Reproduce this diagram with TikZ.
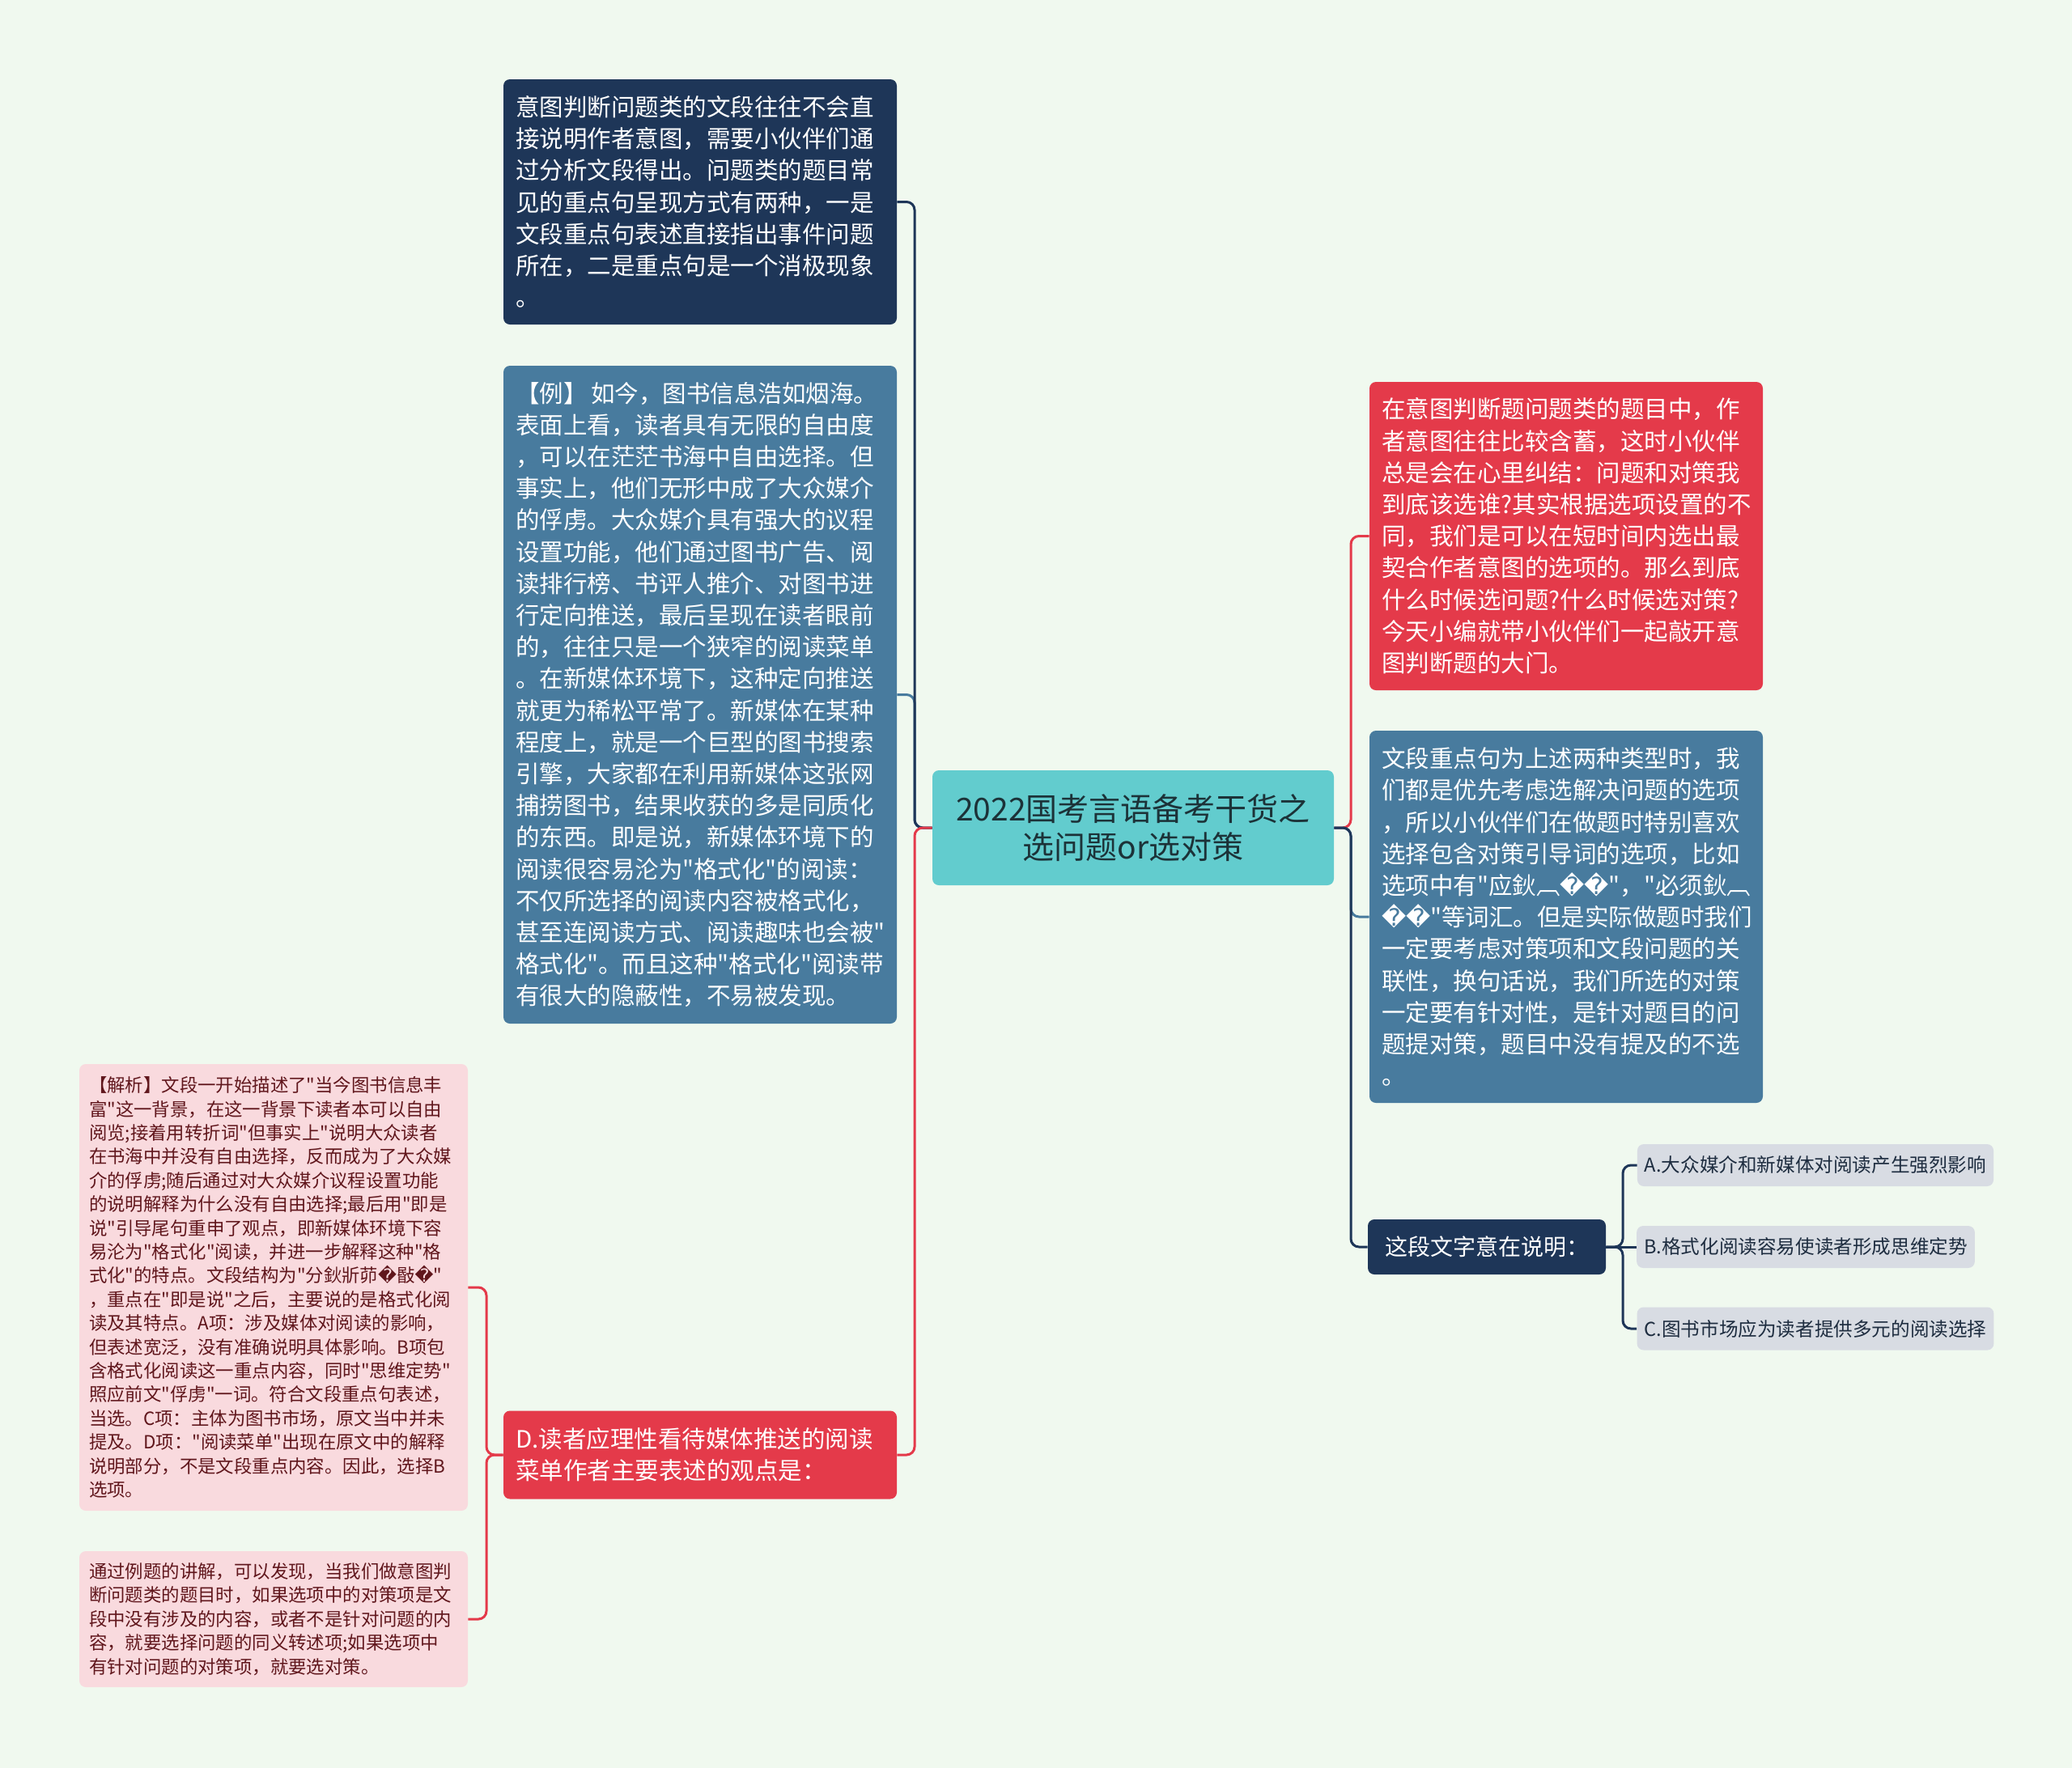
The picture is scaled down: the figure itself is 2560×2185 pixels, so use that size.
\documentclass[tikz,border=0pt]{standalone}
\usepackage{fontspec}
\newfontfamily\cjk{Noto Sans CJK SC}
\newfontfamily\djv{DejaVu Sans}
\newcommand{\rep}{{\djv\char"FFFD}}
\newcommand{\txtbig}{\cjk\fontsize{14.75pt}{19.6pt}\selectfont}
\newcommand{\txtsmall}{\cjk\fontsize{11.2pt}{14.7pt}\selectfont}
\newcommand{\txttitle}{\cjk\fontsize{19.5pt}{23.5pt}\selectfont}
\newcommand{\txtopt}{\cjk\fontsize{11.8pt}{14pt}\selectfont}
\newcommand{\txtmid}{\cjk\fontsize{14pt}{17pt}\selectfont}
\definecolor{bgc}{RGB}{240,249,239}
\definecolor{navyc}{RGB}{30,54,88}
\definecolor{steelc}{RGB}{72,123,158}
\definecolor{redc}{RGB}{228,58,74}
\definecolor{tealc}{RGB}{98,204,206}
\definecolor{pinkc}{RGB}{249,218,222}
\definecolor{greyc}{RGB}{216,220,227}
\definecolor{maroonc}{RGB}{96,22,28}
\definecolor{darktxt}{RGB}{28,50,56}
\definecolor{opttxt}{RGB}{30,45,64}
\tikzset{
  box/.style={rectangle, rounded corners=4pt, inner xsep=7.5pt, inner ysep=0pt, align=left},
  bigbox/.style={box, text=white, text width=228pt, minimum width=243pt, font=\txtbig},
  pinkbox/.style={box, fill=pinkc, text=maroonc, inner xsep=6pt, text width=228pt, minimum width=240pt, font=\txtsmall},
  optbox/.style={box, fill=greyc, text=opttxt, inner xsep=4.5pt, font=\txtopt},
  conn/.style={line width=1.5pt, rounded corners=5pt}
}
\begin{document}
\begin{tikzpicture}[x=0.5pt,y=-0.5pt]
\useasboundingbox (0,0) rectangle (2560,2185);
\fill[bgc] (0,0) rectangle (2560,2185);

% centre
\node[box, fill=tealc, text=darktxt, align=center, minimum width=248pt, minimum height=71pt, font=\txttitle] (c) at (1400,1023)
  {2022国考言语备考干货之\\选问题or选对策};

% left column
\node[bigbox, fill=navyc, minimum height=151.5pt] (tl) at (865,249.5)
  {意图判断问题类的文段往往不会直\\接说明作者意图，需要小伙伴们通\\过分析文段得出。问题类的题目常\\见的重点句呈现方式有两种，一是\\文段重点句表述直接指出事件问题\\所在，二是重点句是一个消极现象\\。};

\node[bigbox, fill=steelc, minimum height=406.5pt] (bl) at (865,858.5)
  {【例】\,如今，图书信息浩如烟海。\\表面上看，读者具有无限的自由度\\，可以在茫茫书海中自由选择。但\\事实上，他们无形中成了大众媒介\\的俘虏。大众媒介具有强大的议程\\设置功能，他们通过图书广告、阅\\读排行榜、书评人推介、对图书进\\行定向推送，最后呈现在读者眼前\\的，往往只是一个狭窄的阅读菜单\\。在新媒体环境下，这种定向推送\\就更为稀松平常了。新媒体在某种\\程度上，就是一个巨型的图书搜索\\引擎，大家都在利用新媒体这张网\\捕捞图书，结果收获的多是同质化\\的东西。即是说，新媒体环境下的\\阅读很容易沦为"格式化"的阅读：\\不仅所选择的阅读内容被格式化，\\甚至连阅读方式、阅读趣味也会被"\\格式化"。而且这种"格式化"阅读带\\有很大的隐蔽性，不易被发现。};

\node[bigbox, fill=redc, minimum height=54.5pt] (dr) at (865,1798)
  {D.读者应理性看待媒体推送的阅读\\菜单作者主要表述的观点是：};

\node[pinkbox, minimum height=276pt] (p1) at (338,1591)
  {【解析】文段一开始描述了"当今图书信息丰\\富"这一背景，在这一背景下读者本可以自由\\阅览;接着用转折词"但事实上"说明大众读者\\在书海中并没有自由选择，反而成为了大众媒\\介的俘虏;随后通过对大众媒介议程设置功能\\的说明解释为什么没有自由选择;最后用"即是\\说"引导尾句重申了观点，即新媒体环境下容\\易沦为"格式化"阅读，并进一步解释这种"格\\式化"的特点。文段结构为"分鈥斨茆\rep 敯\rep"\\，重点在"即是说"之后，主要说的是格式化阅\\读及其特点。A项：涉及媒体对阅读的影响，\\但表述宽泛，没有准确说明具体影响。B项包\\含格式化阅读这一重点内容，同时"思维定势"\\照应前文"俘虏"一词。符合文段重点句表述，\\当选。C项：主体为图书市场，原文当中并未\\提及。D项："阅读菜单"出现在原文中的解释\\说明部分，不是文段重点内容。因此，选择B\\选项。};

\node[pinkbox, minimum height=84pt] (p2) at (338,2001)
  {通过例题的讲解，可以发现，当我们做意图判\\断问题类的题目时，如果选项中的对策项是文\\段中没有涉及的内容，或者不是针对问题的内\\容，就要选择问题的同义转述项;如果选项中\\有针对问题的对策项，就要选对策。};

% right column
\node[bigbox, fill=redc, minimum height=190.5pt] (rr) at (1935,662.5)
  {在意图判断题问题类的题目中，作\\者意图往往比较含蓄，这时小伙伴\\总是会在心里纠结：问题和对策我\\到底该选谁?其实根据选项设置的不\\同，我们是可以在短时间内选出最\\契合作者意图的选项的。那么到底\\什么时候选问题?什么时候选对策?\\今天小编就带小伙伴们一起敲开意\\图判断题的大门。};

\node[bigbox, fill=steelc, minimum height=230pt] (rb) at (1935,1133)
  {文段重点句为上述两种类型时，我\\们都是优先考虑选解决问题的选项\\，所以小伙伴们在做题时特别喜欢\\选择包含对策引导词的选项，比如\\选项中有"应鈥︹\rep\rep"，"必须鈥︹\\\rep\rep"等词汇。但是实际做题时我们\\一定要考虑对策项和文段问题的关\\联性，换句话说，我们所选的对策\\一定要有针对性，是针对题目的问\\题提对策，题目中没有提及的不选\\。};

\node[box, fill=navyc, text=white, align=center, minimum width=147pt, minimum height=34pt, font=\txtmid] (rd) at (1837,1541)
  {这段文字意在说明：};

\node[optbox, minimum width=217pt, minimum height=26pt] (oa) at (2243,1440)
  {A.大众媒介和新媒体对阅读产生强烈影响};
\node[optbox, minimum width=205pt, minimum height=26pt] (ob) at (2231,1541)
  {B.格式化阅读容易使读者形成思维定势};
\node[optbox, minimum width=217pt, minimum height=26.5pt] (oc) at (2243,1642)
  {C.图书市场应为读者提供多元的阅读选择};

% connectors
\coordinate (lj) at (1130,1023);
\coordinate (rj) at (1669,1023);
\coordinate (pj) at (601,1798);
\coordinate (oj) at (2005,1541);

\draw[conn, steelc] (c.west) -- (lj) |- (bl.east);
\draw[conn, navyc] (c.west) -- (lj) |- (tl.east);
\draw[conn, redc] (c.west) -- (lj) |- (dr.east);

\draw[conn, redc] (c.east) -- (rj) |- (rr.west);
\draw[conn, steelc] (c.east) -- (rj) |- (rb.west);
\draw[conn, navyc] (c.east) -- (rj) |- (rd.west);

\draw[conn, redc] (dr.west) -- (pj) |- (p1.east);
\draw[conn, redc] (dr.west) -- (pj) |- (p2.east);

\draw[conn, navyc] (rd.east) -- (oj) |- (oa.west);
\draw[conn, navyc] (rd.east) -- (ob.west);
\draw[conn, navyc] (rd.east) -- (oj) |- (oc.west);
\end{tikzpicture}
\end{document}
